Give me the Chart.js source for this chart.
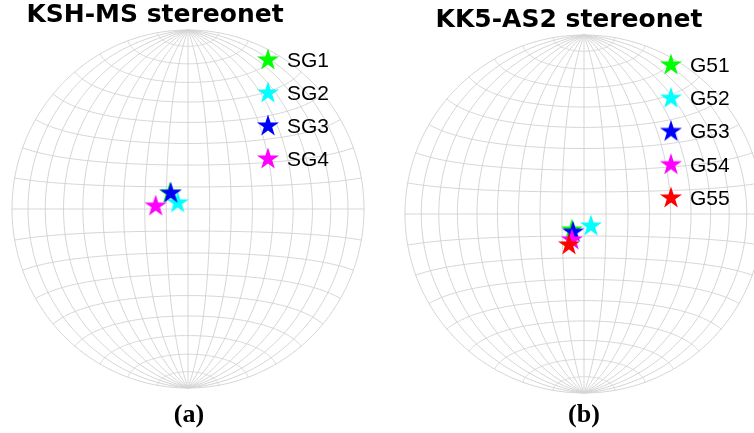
<!DOCTYPE html>
<html>
<head>
<meta charset="utf-8">
<script src="https://cdn.jsdelivr.net/npm/chart.js@4"></script>
<style>
html, body { margin: 0; padding: 0; background: #fff; overflow: hidden; width: 754px; height: 433px; }
.panel { position: absolute; top: 0; height: 433px; }
</style>
</head>
<body>
<div class="panel" style="left:0;width:377px"><canvas id="netA"></canvas></div>
<div class="panel" style="left:377px;width:400px"><canvas id="netB"></canvas></div>
<script>
const samplesA = ['SG1', 'SG2', 'SG3', 'SG4'];
const trendA = [311, 300, 312, 275];
const plungeA = [79, 84.5, 79.3, 75];
const colorsA = ['#00ff00', '#00ffff', '#0000ff', '#ff00ff'];

const samplesB = ['G51', 'G52', 'G53', 'G54', 'G55'];
const trendB = [217, 150, 211, 205, 206];
const plungeB = [80.9, 83.7, 80.4, 77, 74.4];
const colorsB = ['#00ff00', '#00ffff', '#0000ff', '#ff00ff', '#ff0000'];

const D = Math.PI / 180;

// equal-area (Schmidt) projection of a line, unit radius net
function projectLine(trend, plunge) {
    let r = Math.SQRT2 * Math.sin((90 - plunge) / 2 * D);
    return { x: r * Math.sin(trend * D), y: r * Math.cos(trend * D) };
}

// transverse lambert point for the grid (lon / lat in the net frame)
function netPoint(lon, lat) {
    let l = lon * D, p = lat * D;
    let k = Math.sqrt(2 / (1 + Math.cos(p) * Math.cos(l)));
    return [k * Math.cos(p) * Math.sin(l) / Math.SQRT2, k * Math.sin(p) / Math.SQRT2];
}

function makeStar(color) {
    let c = document.createElement('canvas');
    c.width = 28;
    c.height = 28;
    let g = c.getContext('2d');
    let R = 11.6, r = R * 0.381966;
    g.beginPath();
    for (let i = 0; i < 10; i++) {
        let a = -Math.PI / 2 + i * Math.PI / 5;
        let rad = i % 2 === 0 ? R : r;
        let px = 14 + rad * Math.cos(a), py = 14 + rad * Math.sin(a);
        if (i === 0) g.moveTo(px, py); else g.lineTo(px, py);
    }
    g.closePath();
    g.fillStyle = color;
    g.fill();
    return c;
}

const netGrid = {
    id: 'netGrid',
    beforeDatasetsDraw(chart) {
        let ctx = chart.ctx, xs = chart.scales.x, ys = chart.scales.y;
        ctx.save();
        ctx.strokeStyle = '#d4d4d4';
        ctx.lineWidth = 1;
        let path = function (pts) {
            ctx.beginPath();
            pts.forEach(function (p, i) {
                let px = xs.getPixelForValue(p[0]), py = ys.getPixelForValue(p[1]);
                if (i === 0) ctx.moveTo(px, py); else ctx.lineTo(px, py);
            });
            ctx.stroke();
        };
        for (let lon = -90; lon <= 90; lon += 10) {
            let pts = [];
            for (let lat = -90; lat <= 90; lat += 1) pts.push(netPoint(lon, lat));
            path(pts);
        }
        for (let lat = -80; lat <= 80; lat += 10) {
            let pts = [];
            for (let lon = -90; lon <= 90; lon += 1) pts.push(netPoint(lon, lat));
            path(pts);
        }
        ctx.restore();
    }
};

const netText = {
    id: 'netText',
    afterDraw(chart, args, opts) {
        let ctx = chart.ctx;
        ctx.save();
        ctx.fillStyle = '#000';
        ctx.textAlign = 'center';
        ctx.textBaseline = 'alphabetic';
        ctx.font = 'bold 25px "DejaVu Sans"';
        ctx.fillText(opts.title, opts.titleX, opts.titleY);
        ctx.textBaseline = 'middle';
        ctx.font = 'bold 26px "Liberation Serif"';
        ctx.fillText(opts.caption, opts.captionX, opts.captionY);

        // legend column inside the net
        ctx.textAlign = 'left';
        ctx.font = '21px "Liberation Sans"';
        chart.data.datasets.forEach(function (ds, i) {
            let y = opts.legendY + i * opts.legendStep;
            let img = ds.pointStyle;
            ctx.drawImage(img, opts.legendX - img.width / 2, y - img.height / 2);
            ctx.fillText(ds.label, opts.legendX + 19, y + 1);
        });
        ctx.restore();
    }
};

function addNet(canvasId, names, trends, plunges, colors, padding, text) {
    let datasets = names.map(function (name, i) {
        return {
            label: name,
            data: [projectLine(trends[i], plunges[i])],
            pointStyle: makeStar(colors[i]),
            pointRadius: 11,
            backgroundColor: colors[i],
            borderColor: colors[i],
            order: names.length - i
        };
    });
    return new Chart(document.getElementById(canvasId), {
        type: 'scatter',
        data: { datasets: datasets },
        options: {
            responsive: true,
            maintainAspectRatio: false,
            animation: false,
            layout: { padding: padding },
            scales: {
                x: { display: false, min: -1, max: 1 },
                y: { display: false, min: -1, max: 1 }
            },
            plugins: {
                legend: { display: false },
                tooltip: { enabled: false },
                netText: text
            }
        },
        plugins: [netGrid, netText]
    });
}

addNet('netA', samplesA, trendA, plungeA, colorsA,
    { left: 6, right: 13, top: 30, bottom: 45 },
    { title: 'KSH-MS stereonet', titleX: 155, titleY: 22, caption: '(a)', captionX: 189, captionY: 415,
      legendX: 268, legendY: 60, legendStep: 33 });

addNet('netB', samplesB, trendB, plungeB, colorsB,
    { left: 28, right: 14, top: 35, bottom: 40 },
    { title: 'KK5-AS2 stereonet', titleX: 192, titleY: 27, caption: '(b)', captionX: 207, captionY: 415,
      legendX: 294, legendY: 65, legendStep: 33.25 });
</script>
</body>
</html>
